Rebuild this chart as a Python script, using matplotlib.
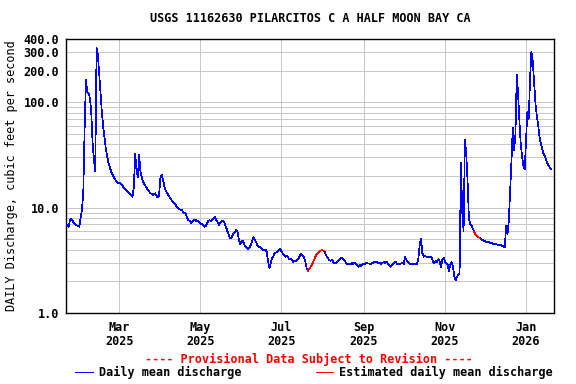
import numpy as np
import pandas as pd
import matplotlib
matplotlib.use("Agg")
import matplotlib.pyplot as plt
import matplotlib.dates as mdates
from matplotlib.lines import Line2D
from matplotlib.ticker import FixedLocator, NullFormatter

# daily mean discharge, cfs ====================================================

start_date = "2025-01-20"
jan_2025 = [6.9, 6.8, 6.6, 7.7, 7.9, 7.5, 7.1, 7.0, 6.8, 6.7, 6.6, 8.0]
feb_2025 = [9.7, 14.1, 56, 164, 125, 122, 110, 80, 41, 29, 22, 330, 280, 185,
            120, 80, 58, 46, 36, 30.5, 26.5, 24, 22, 20.5, 19.5, 18.5, 17.8, 17.2]
mar_2025 = [17.4, 17.0, 16.5, 15.8, 15.3, 14.8, 14.3, 13.9, 13.5, 13.1, 12.7,
            15.5, 32.5, 23, 19.5, 31.5, 22, 19.5, 17.5, 16.6, 15.9, 15.2, 14.5,
            14.0, 13.6, 13.3, 13.3, 13.7, 13.0, 12.5, 13.0]
apr_2025 = [19.5, 20.4, 18.5, 15.8, 14.6, 13.8, 13.1, 12.5, 12.0, 11.5, 11.2,
            10.8, 10.4, 10.1, 9.7, 9.6, 9.5, 9.2, 8.9, 8.8, 8.0, 7.6, 7.5, 7.2,
            7.4, 7.5, 7.75, 7.5, 7.5, 7.35]
may_2025 = [7.1, 7.0, 6.85, 6.6, 6.7, 7.0, 7.5, 7.6, 7.5, 7.6, 8.0, 8.2, 7.6,
            7.3, 6.85, 7.2, 7.5, 7.5, 7.35, 6.7, 6.2, 5.7, 5.25, 5.1, 5.4, 5.7,
            5.9, 6.15, 5.9, 4.95, 4.5]
jun_2025 = [4.75, 4.85, 4.5, 4.26, 4.2, 4.05, 4.2, 4.4, 4.85, 5.25, 4.95, 4.7,
            4.4, 4.26, 4.26, 4.1, 3.96, 3.96, 4.0, 3.8, 3.07, 2.66, 3.0, 3.3,
            3.45, 3.74, 3.76, 3.8, 3.96, 4.1]
jul_2025 = [3.83, 3.69, 3.55, 3.42, 3.47, 3.38, 3.24, 3.3, 3.19, 3.05, 3.13,
            3.1, 3.24, 3.3, 3.55, 3.62, 3.47, 3.38, 3.07, 2.66, 2.52, 2.62, 2.75,
            2.9, 3.07, 3.3, 3.5, 3.69, 3.8, 3.9, 3.94]
aug_2025 = [3.94, 3.92, 3.69, 3.47, 3.3, 3.19, 3.13, 3.19, 3.05, 2.96, 3.0,
            3.07, 3.13, 3.24, 3.35, 3.3, 3.19, 3.07, 2.96, 2.9, 2.92, 2.92, 3.0,
            2.92, 3.0, 2.96, 2.84, 2.75, 2.86, 2.8, 2.92]
sep_2025 = [2.96, 2.92, 3.0, 2.96, 2.96, 2.92, 2.96, 3.0, 3.05, 3.09, 3.05,
            2.96, 3.0, 2.92, 3.0, 3.05, 2.96, 3.07, 2.96, 2.86, 2.75, 2.86, 2.96,
            3.0, 3.07, 2.92, 2.9, 2.92, 2.96, 3.0]
oct_2025 = [2.92, 3.38, 3.19, 3.07, 2.96, 2.92, 2.92, 2.9, 2.9, 2.9, 2.9, 3.3,
            4.42, 5.1, 3.69, 3.42, 3.47, 3.42, 3.42, 3.38, 3.38, 3.38, 3.07,
            2.96, 3.13, 3.07, 3.24, 3.1, 2.75, 3.2, 3.35]
nov_2025 = [3.1, 2.95, 2.9, 2.5, 2.9, 3.05, 2.8, 2.23, 2.05, 2.2, 2.3, 2.4,
            26.6, 9.0, 6.0, 44.5, 32, 17.8, 8.0, 7.0, 6.8, 6.3, 5.9, 5.55, 5.35,
            5.3, 5.15, 5.05, 4.95, 4.9]
dec_2025 = [4.8, 4.75, 4.78, 4.7, 4.62, 4.65, 4.55, 4.5, 4.5, 4.47, 4.45, 4.45,
            4.4, 4.33, 4.28, 4.18, 6.7, 5.6, 7.4, 14, 27.5, 57, 35, 50, 184,
            120, 66, 40, 30.7, 24.8, 23]
jan_2026 = [45, 82, 70, 170, 303, 250, 157, 100, 75, 62, 48, 41, 37, 33, 31,
            28.5, 26.5, 25, 24, 23.3]

# estimated (red) periods
est_periods = [("2025-07-22", "2025-08-01"), ("2025-11-24", "2025-11-26")]

y_ticks = [1, 10, 100, 200, 300, 400]
y_tick_labels = ["1.0", "10.0", "100.0", "200.0", "300.0", "400.0"]
x_ticks = ["2025-03-01", "2025-05-01", "2025-07-01", "2025-09-01",
           "2025-11-01", "2026-01-01"]
x_tick_labels = ["Mar\n2025", "May\n2025", "Jul\n2025", "Sep\n2025",
                 "Nov\n2025", "Jan\n2026"]

# build series ================================================================

values = (jan_2025 + feb_2025 + mar_2025 + apr_2025 + may_2025 + jun_2025
          + jul_2025 + aug_2025 + sep_2025 + oct_2025 + nov_2025 + dec_2025
          + jan_2026)
df = pd.DataFrame({"date": pd.date_range(start_date, periods=len(values), freq="D"),
                   "q": values})

est = np.zeros(len(df), dtype=bool)
for a, b in est_periods:
    est |= ((df["date"] >= a) & (df["date"] <= b)).values

blue = df["q"].where(~est)

# plot ========================================================================

plt.rcParams["font.family"] = "DejaVu Sans Mono"
plt.rcParams["font.weight"] = "bold"
fs = 8.5
lw = 0.5

fig = plt.figure(figsize=(5.76, 3.84), dpi=100)
ax = fig.add_axes([66 / 576, 1 - 313 / 384, (554 - 66) / 576, (313 - 39) / 384])

ax.plot(df["date"], blue, color="#0000ff", lw=lw, antialiased=False, zorder=3)
for a, b in est_periods:
    m = (df["date"] >= pd.Timestamp(a) - pd.Timedelta(days=1)) & \
        (df["date"] <= pd.Timestamp(b) + pd.Timedelta(days=1))
    ax.plot(df["date"][m], df["q"][m], color="#ff0000", lw=lw,
            antialiased=False, zorder=4)

ax.set_yscale("log")
ax.set_ylim(1, 400)
ax.set_xlim(pd.Timestamp("2025-01-20"), pd.Timestamp("2026-01-22"))

ax.yaxis.set_major_locator(FixedLocator(y_ticks))
ax.set_yticklabels(y_tick_labels)
minor = [m * 10 ** e for e in range(0, 3) for m in range(2, 10)]
minor = [v for v in minor if v < 400 and v not in y_ticks]
ax.yaxis.set_minor_locator(FixedLocator(minor))
ax.yaxis.set_minor_formatter(NullFormatter())

ax.set_xticks([mdates.date2num(pd.Timestamp(t)) for t in x_ticks])
ax.set_xticklabels(x_tick_labels, linespacing=1.1)

ax.grid(True, which="both", color="#c8c8c8", lw=lw, antialiased=False)
ax.set_axisbelow(True)
ax.tick_params(which="both", length=0, labelsize=fs)
ax.tick_params(axis="x", pad=6)
ax.tick_params(axis="y", pad=5)
for s in ax.spines.values():
    s.set_linewidth(1.0)
    s.set_color("black")

ax.set_ylabel("DAILY Discharge, cubic feet per second", fontsize=fs, labelpad=4)

fig.text(310 / 576, 1 - 19 / 384, "USGS 11162630 PILARCITOS C A HALF MOON BAY CA",
         ha="center", va="center", fontsize=fs)
fig.text(309 / 576, 1 - 359 / 384, "---- Provisional Data Subject to Revision ----",
         ha="center", va="center", fontsize=fs, color="#ff0000")

ly = 1 - 372 / 384
fig.add_artist(Line2D([75 / 576, 93 / 576], [ly, ly], color="#0000ff", lw=0.72))
fig.text(99 / 576, ly, "Daily mean discharge", ha="left", va="center", fontsize=fs)
fig.add_artist(Line2D([316 / 576, 333 / 576], [ly, ly], color="#ff0000", lw=0.72))
fig.text(339 / 576, ly, "Estimated daily mean discharge", ha="left", va="center",
         fontsize=fs)

fig.savefig("out.png", dpi=100)
